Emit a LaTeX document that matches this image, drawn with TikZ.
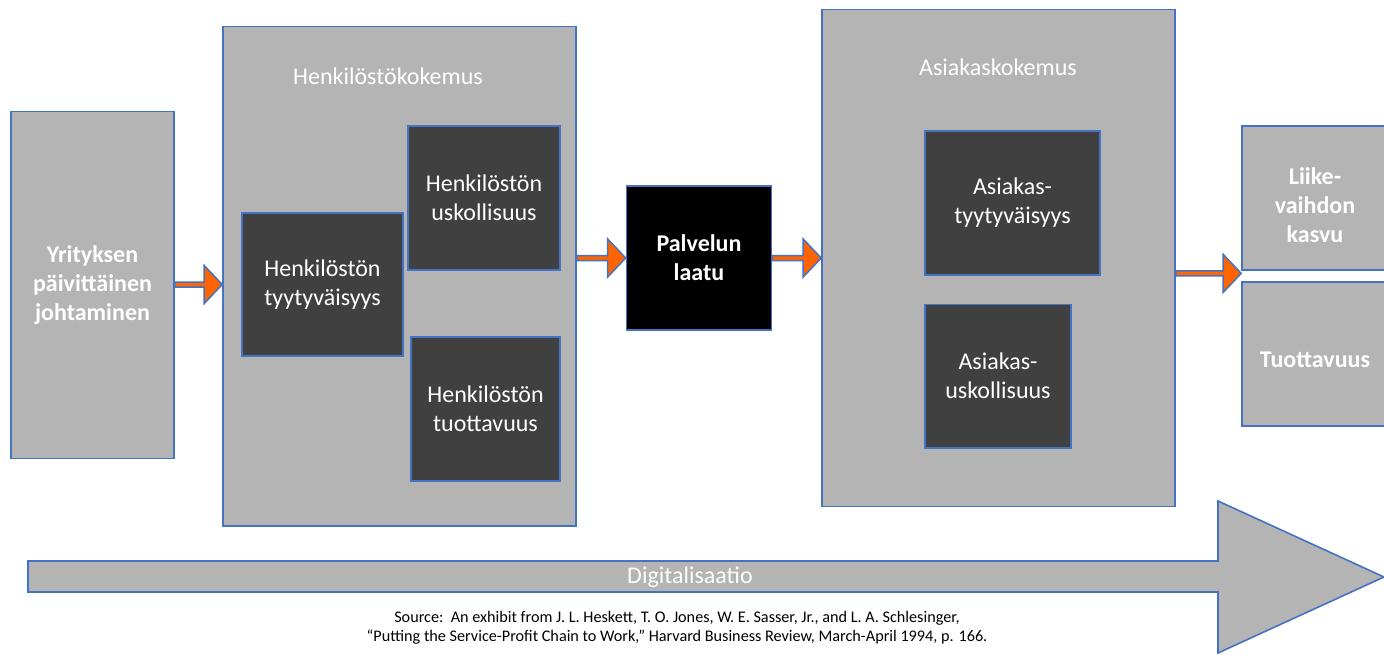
\documentclass[tikz,border=0pt]{standalone}
\usepackage{fontspec}
\setmainfont{Carlito}
\usetikzlibrary{calc}
\definecolor{bxgray}{HTML}{B4B4B4}
\definecolor{bxdark}{HTML}{404040}
\definecolor{bxblue}{HTML}{4472C4}
\definecolor{arrorange}{HTML}{FF6400}
\newcommand\flowarr[2]{\draw[flowarrow] let \p1=(#1), \p2=(#2) in
  (\x1,\y1-2.5pt) -- (\x2-18pt,\y1-2.5pt) -- (\x2-18pt,\y1-19pt) -- (\x2,\y1) --
  (\x2-18pt,\y1+19pt) -- (\x2-18pt,\y1+2.5pt) -- (\x1,\y1+2.5pt) -- cycle;}
\begin{document}
\begin{tikzpicture}[x=1pt,y=-1pt,
  box/.style={draw=bxblue, line width=1.6pt, fill=bxgray, inner sep=0pt,
    text=white, align=center, font=\fontsize{24}{29}\selectfont},
  darkbox/.style={box, fill=bxdark},
  boldbox/.style={box, font=\fontsize{24}{29}\selectfont\bfseries},
  title/.style={text=white, inner sep=0pt, font=\fontsize{24}{29}\selectfont},
  boldtext/.style={text=white, inner sep=0pt, align=center, font=\fontsize{24}{29}\selectfont\bfseries},
  flowarrow/.style={fill=arrorange, draw=bxblue, line width=1.5pt, line join=miter},
  bigarrow/.style={fill=bxgray, draw=bxblue, line width=1.6pt, line join=miter},
  sz/.style 2 args={minimum width=#1pt, minimum height=#2pt}]
\useasboundingbox (0,0) rectangle (1384,655);

% left box
\node[boldbox, sz={163}{347}] (yr) at (92.5,285) {Yrityksen\\päivittäinen\\johtaminen};

% employee experience
\node[box, sz={353}{499.5}] (hk) at (399.5,276.25) {};
\node[title] (hkt) at (388,76) {Henkilöstökokemus};
\node[darkbox, sz={161}{143}] (ht) at (322.5,284.5) {Henkilöstön\\tyytyväisyys};
\node[darkbox, sz={152}{144}] (hu) at (484,198) {Henkilöstön\\uskollisuus};
\node[darkbox, sz={149}{144}] (hp) at (485.5,409) {Henkilöstön\\tuottavuus};

% service quality
\node[boldbox, fill=black, sz={145}{144}] (pl) at (699,258) {Palvelun\\laatu};

% customer experience
\node[box, sz={353}{497}] (ak) at (998.5,258) {};
\node[title] (akt) at (998,67) {Asiakaskokemus};
\node[darkbox, sz={175}{144}] (at) at (1012.5,203) {Asiakas-\\tyytyväisyys};
\node[darkbox, sz={146}{143.5}] (au) at (998,376.25) {Asiakas-\\uskollisuus};

% results
\node[box, sz={152}{144}] (lk) at (1318,198) {};
\node[boldtext] (lkt) at (1315,205) {Liike-\\vaihdon\\kasvu};
\node[box, sz={152}{144}] (tu) at (1318,354) {};
\node[boldtext] (tut) at (1315,360) {Tuottavuus};
\coordinate (m4) at ($(lk.south west)!0.25!(tu.north west)$);

% flow arrows
\flowarr{yr.east |- ht.west}{ht.west -| hk.west}
\flowarr{pl.west -| hk.east}{pl.west}
\flowarr{pl.east}{pl.east -| ak.west}
\flowarr{ak.east |- m4}{m4}

% digitalisation arrow
\draw[bigarrow] (28,561) -- (1218,561) -- (1218,501) -- (1384,577) --
  (1218,653) -- (1218,592) -- (28,592) -- cycle;
\node[title] (dg) at (690,577) {Digitalisaatio};

% source
\node[inner sep=0pt, align=center, font=\fontsize{16.2}{19.5}\selectfont] (src) at (677,628)
  {Source:\ \ An exhibit from J. L. Heskett, T. O. Jones, W. E. Sasser, Jr., and L. A. Schlesinger,\\
   “Putting the Service-Profit Chain to Work,” Harvard Business Review, March-April 1994, p. 166.};
\end{tikzpicture}
\end{document}
